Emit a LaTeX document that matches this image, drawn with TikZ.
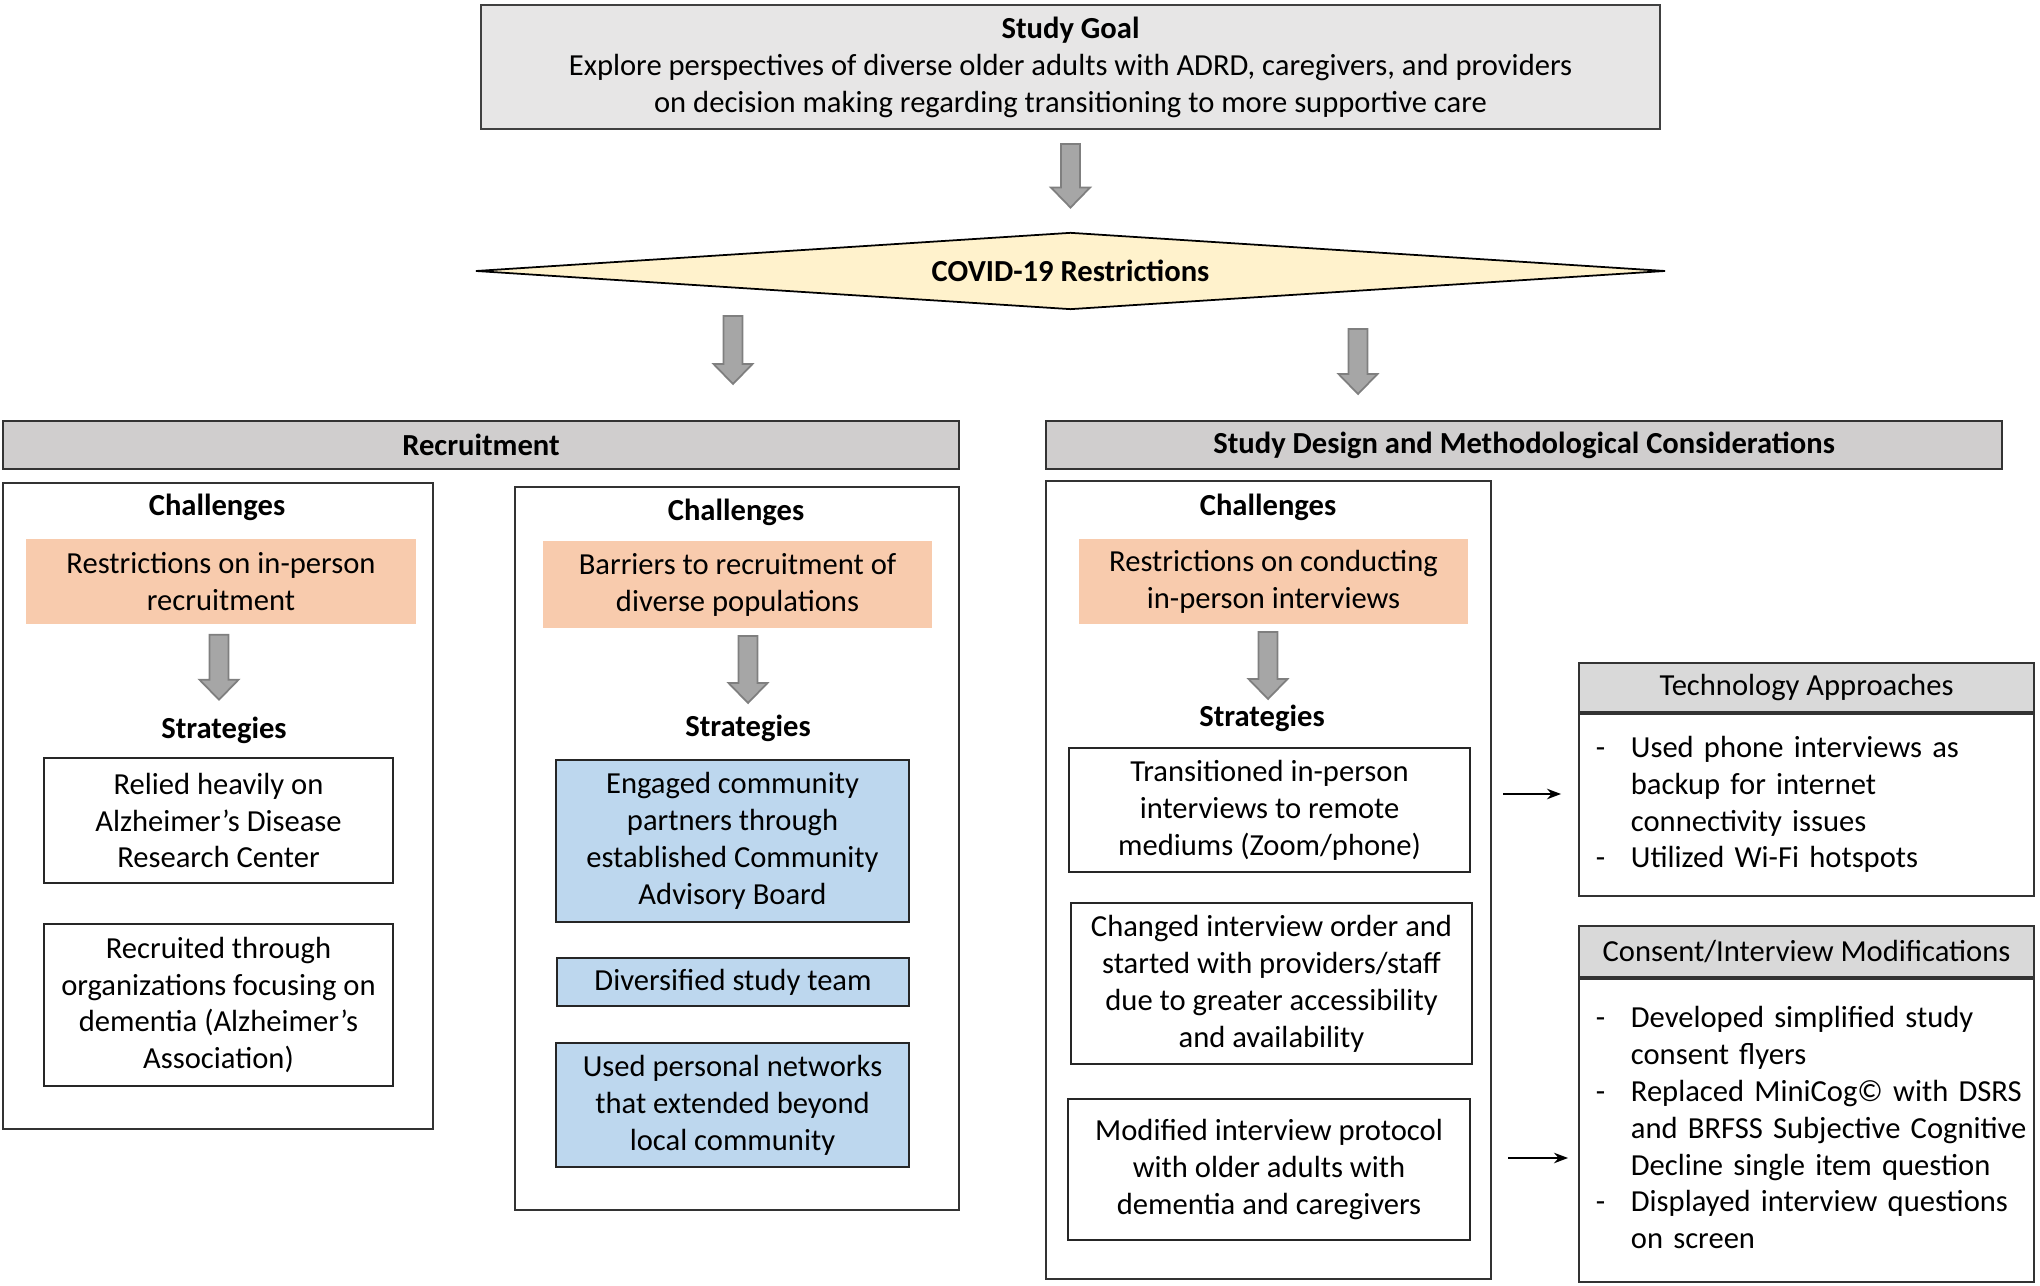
\documentclass[tikz,border=0pt]{standalone}
\usepackage{fontspec}
\setmainfont{Carlito}
\usetikzlibrary{calc, positioning, arrows.meta, shapes.geometric}

\definecolor{goalgray}{HTML}{E7E6E6}
\definecolor{hdrgray}{HTML}{D0CECE}
\definecolor{sidegray}{HTML}{D9D9D9}
\definecolor{covidyellow}{HTML}{FFF2CC}
\definecolor{chalorange}{HTML}{F8CBAD}
\definecolor{stratblue}{HTML}{BDD7EE}
\definecolor{arrowfill}{HTML}{A6A6A6}
\definecolor{arrowline}{HTML}{7F7F7F}

% block arrow pointing down, from #1 to the tip #2
\newcommand{\fatarrow}[2]{%
  \filldraw[fatarrow] ($(#1)+(-9.5,0)$) -- ($(#2)+(-9.5,-20)$) -- ($(#2)+(-19.5,-20)$) -- (#2)
    -- ($(#2)+(19.5,-20)$) -- ($(#2)+(9.5,-20)$) -- ($(#1)+(9.5,0)$) -- cycle;}

\tikzset{
  every node/.style={font=\fontsize{8.7}{10.5}\selectfont, inner sep=0pt},
  wh/.style 2 args={minimum width=#1cm, minimum height=#2cm},
  goalbox/.style={draw=black!75, fill=goalgray, line width=0.6pt, align=center},
  covidbox/.style={diamond, draw=black, fill=covidyellow, line width=0.5pt, aspect=15, font=\fontsize{8.7}{10.5}\selectfont\bfseries},
  header/.style={draw=black!80, fill=hdrgray, line width=0.6pt, font=\fontsize{8.7}{10.5}\selectfont\bfseries},
  panel/.style={draw=black!80, line width=0.6pt},
  lbl/.style={font=\fontsize{8.7}{10.5}\selectfont\bfseries},
  chalbox/.style={fill=chalorange, align=center},
  stratbox/.style={draw=black!85, fill=white, line width=0.6pt, align=center},
  bluebox/.style={draw=black!85, fill=stratblue, line width=0.6pt, align=center},
  sidehead/.style={draw=black!80, fill=sidegray, line width=0.6pt},
  sidebody/.style={draw=black!80, line width=0.6pt, text width=4.55cm, align=left},
  fatarrow/.style={fill=arrowfill, draw=arrowline, line width=0.5pt},
  thinarrow/.style={-{Stealth[length=4pt, width=3pt]}, line width=0.4pt},
}

\begin{document}
\begin{tikzpicture}[x=0.01cm, y=-0.01cm]
  \useasboundingbox (0,0) rectangle (2040,1286);

  % goal and covid
  \node[goalbox, wh={11.79}{1.24}] (goal) at (1070.5,67)
    {\textbf{Study Goal}\\Explore perspectives of diverse older adults with ADRD, caregivers, and providers\\on decision making regarding transitioning to more supportive care};
  \node[covidbox, wh={11.89}{0.77}] (covid) at (1070.5,271) {COVID-19 Restrictions};
  \fatarrow{$(goal.south)+(0,14)$}{$(covid.north)+(0,-24)$}

  % section headers
  \node[header, wh={9.56}{0.48}] (rechead) at (481,445) {Recruitment};
  \node[header, wh={9.56}{0.48}] (deshead) at (1524,445) {Study Design and Methodological Considerations};
  \coordinate (covl) at (733,316);
  \coordinate (covr) at (1358,329);
  \fatarrow{covl}{$(covl)+(0,68)$}
  \fatarrow{covr}{$(covr)+(0,65)$}

  % recruitment, first column
  \node[panel, wh={4.30}{6.46}] (panA) at (218,806) {};
  \node[lbl] (chalA) at (217,507) {Challenges};
  \node[chalbox, wh={3.90}{0.85}] (restA) at (221,581.5) {Restrictions on in-person\\recruitment};
  \node[lbl] (stratA) at (224,730) {Strategies};
  \fatarrow{$(restA.south)+(-2,10)$}{$(restA.south)+(-2,75)$}
  \node[stratbox, wh={3.49}{1.25}] (adrc) at (218.5,820.5) {Relied heavily on\\Alzheimer’s Disease\\Research Center};
  \node[stratbox, wh={3.49}{1.62}] (orgs) at (218.5,1005) {Recruited through\\organizations focusing on\\dementia (Alzheimer’s\\Association)};

  % recruitment, second column
  \node[panel, wh={4.44}{7.23}] (panB) at (737,848.5) {};
  \node[lbl] (chalB) at (736,512) {Challenges};
  \node[chalbox, wh={3.89}{0.87}] (barB) at (737.5,584.5) {Barriers to recruitment of\\diverse populations};
  \node[lbl] (stratB) at (748,728) {Strategies};
  \fatarrow{$(stratB.north |- 0,636)$}{$(stratB.north |- 0,703)$}
  \node[bluebox, wh={3.53}{1.62}] (cab) at (732.5,841) {Engaged community\\partners through\\established Community\\Advisory Board};
  \node[bluebox, wh={3.52}{0.48}] (team) at (733,982) {Diversified study team};
  \node[bluebox, wh={3.53}{1.24}] (netw) at (732.5,1105) {Used personal networks\\that extended beyond\\local community};

  % study design column
  \node[panel, wh={4.45}{7.98}] (panC) at (1268.5,880) {};
  \node[lbl] (chalC) at (1268,507) {Challenges};
  \node[chalbox, wh={3.89}{0.85}] (restC) at (1273.5,581.5) {Restrictions on conducting\\in-person interviews};
  \node[lbl] (stratC) at (1262,718) {Strategies};
  \fatarrow{$(chalC |- 0,632)$}{$(chalC |- 0,699)$}
  \node[stratbox, wh={4.01}{1.24}] (remote) at (1269.5,810) {Transitioned in-person\\interviews to remote\\mediums (Zoom/phone)};
  \node[stratbox, wh={4.01}{1.61}] (order) at (1271.5,983.5) {Changed interview order and\\started with providers/staff\\due to greater accessibility\\and availability};
  \node[stratbox, wh={4.02}{1.41}] (proto) at (1269,1169.5) {Modified interview protocol\\with older adults with\\dementia and caregivers};

  % side boxes
  \node[sidehead, wh={4.55}{0.49}] (techhead) at (1806.5,687.5) {Technology Approaches};
  \node[sidebody, minimum height=1.82cm, below=0pt of techhead] (techbody)
    {\begin{tabular}{@{\hspace{0.17cm}}p{0.35cm}@{}l@{}}
      - & Used phone interviews as\\
        & backup for internet\\
        & connectivity issues\\
      - & Utilized Wi-Fi hotspots
    \end{tabular}};
  \node[sidehead, wh={4.55}{0.51}] (conshead) at (1806.5,951.5) {Consent/Interview Modifications};
  \node[sidebody, minimum height=3.03cm, below=0pt of conshead] (consbody)
    {\begin{tabular}{@{\hspace{0.17cm}}p{0.35cm}@{}l@{}}
      - & Developed simplified study\\
        & consent flyers\\
      - & Replaced MiniCog© with DSRS\\
        & and BRFSS Subjective Cognitive\\
        & Decline single item question\\
      - & Displayed interview questions\\
        & on screen
    \end{tabular}};

  \coordinate (ta) at (1503,794);
  \coordinate (tb) at (1561,794);
  \coordinate (ca) at (1508,1158);
  \coordinate (cb) at (1568,1158);
  \draw[thinarrow] (ta) -- (tb);
  \draw[thinarrow] (ca) -- (cb);
\end{tikzpicture}
\end{document}
